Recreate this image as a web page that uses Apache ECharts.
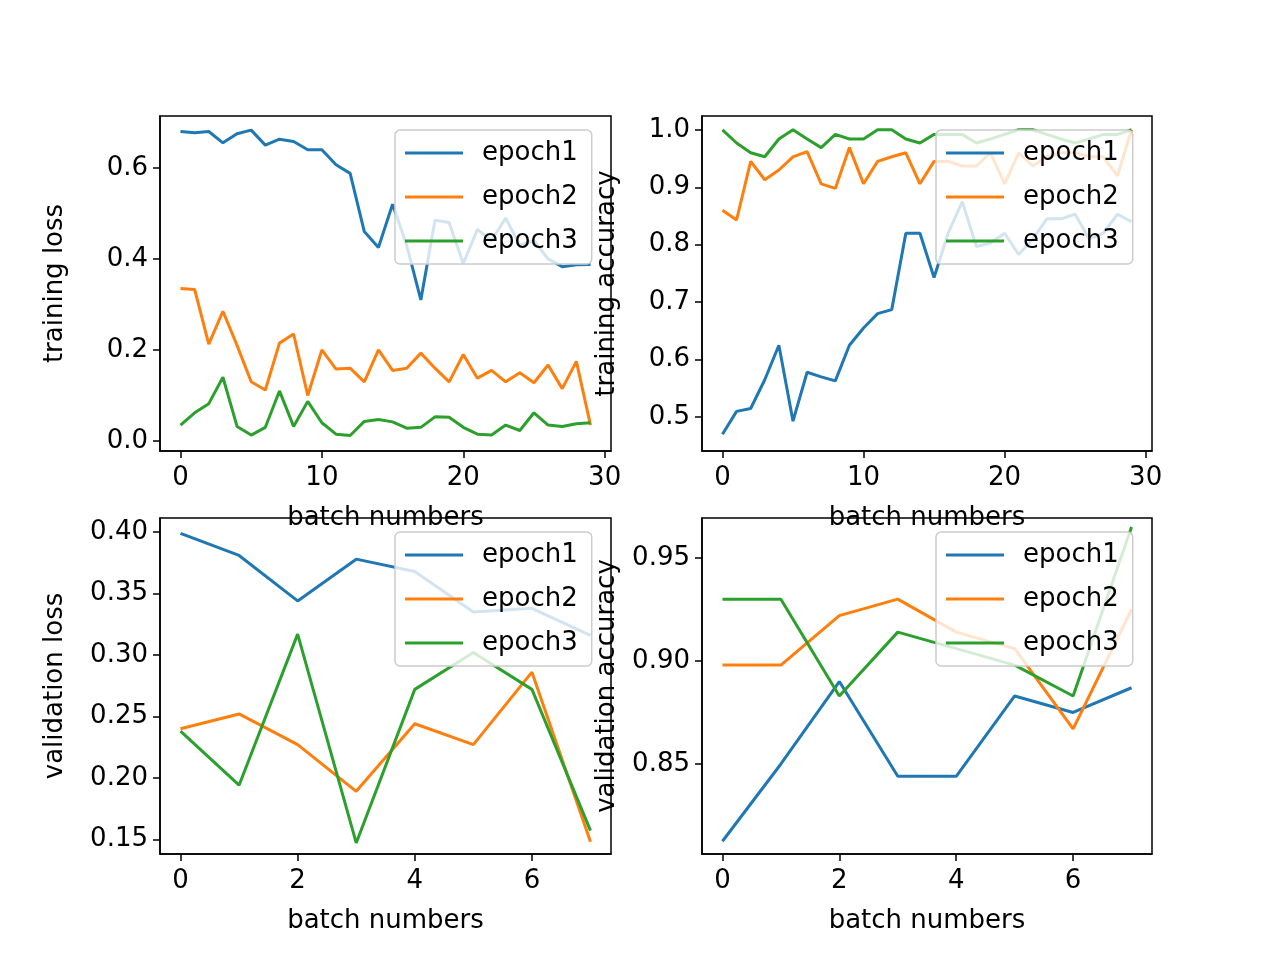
<!DOCTYPE html>
<html>
<head>
<meta charset="utf-8">
<script src="https://cdn.jsdelivr.net/npm/echarts@6/dist/echarts.min.js"></script>
<style>html,body{margin:0;background:#fff}#main{width:1280px;height:960px}</style>
</head>
<body>
<div id="main"></div>
<script>
// chart data
const seriesNames = ['epoch1', 'epoch2', 'epoch3'];
const colors = ['#1f77b4', '#ff7f0e', '#2ca02c'];

const trainLoss1 = [0.68,0.677,0.68,0.655,0.675,0.683,0.65,0.663,0.658,0.64,0.64,0.607,0.588,0.46,0.425,0.52,0.43,0.31,0.485,0.48,0.39,0.465,0.44,0.49,0.43,0.44,0.40,0.383,0.387,0.388];
const trainLoss2 = [0.335,0.333,0.213,0.285,0.21,0.13,0.112,0.215,0.235,0.1,0.2,0.158,0.16,0.13,0.2,0.155,0.16,0.193,0.16,0.13,0.19,0.138,0.155,0.13,0.15,0.128,0.167,0.115,0.175,0.035];
const trainLoss3 = [0.035,0.062,0.082,0.14,0.032,0.013,0.03,0.11,0.032,0.087,0.04,0.015,0.012,0.043,0.047,0.042,0.028,0.03,0.053,0.052,0.03,0.015,0.013,0.035,0.023,0.062,0.035,0.032,0.038,0.04];

const trainAcc1 = [0.47,0.51,0.515,0.565,0.625,0.493,0.578,0.57,0.563,0.625,0.655,0.68,0.687,0.82,0.82,0.743,0.82,0.875,0.797,0.803,0.82,0.783,0.81,0.845,0.845,0.853,0.81,0.82,0.853,0.84];
const trainAcc2 = [0.86,0.843,0.945,0.913,0.93,0.953,0.962,0.906,0.898,0.969,0.906,0.945,0.953,0.96,0.906,0.945,0.945,0.937,0.937,0.96,0.906,0.96,0.937,0.953,0.96,0.96,0.953,0.953,0.92,1.0];
const trainAcc3 = [1.0,0.977,0.96,0.953,0.984,1.0,0.984,0.969,0.992,0.984,0.984,1.0,1.0,0.984,0.977,0.992,0.992,0.992,0.977,0.984,0.992,1.0,1.0,0.992,0.984,0.977,0.984,0.992,0.992,1.0];

const valLoss1 = [0.399,0.381,0.344,0.378,0.368,0.335,0.338,0.316];
const valLoss2 = [0.240,0.252,0.227,0.189,0.244,0.227,0.286,0.148];
const valLoss3 = [0.238,0.194,0.317,0.147,0.272,0.302,0.272,0.157];

const valAcc1 = [0.8125,0.85,0.89,0.844,0.844,0.883,0.875,0.887];
const valAcc2 = [0.898,0.898,0.922,0.93,0.914,0.906,0.867,0.925];
const valAcc3 = [0.93,0.93,0.883,0.914,0.906,0.898,0.883,0.965];

const panels = [
  { box: [160, 116, 451, 335], x: [-1.45, 30.45, 10], y: [-0.022, 0.714, 0.2, 1], yName: 'training loss', data: [trainLoss1, trainLoss2, trainLoss3] },
  { box: [702, 116, 450, 335], x: [-1.45, 30.45, 10], y: [0.441, 1.024, 0.1, 1], yName: 'training accuracy', data: [trainAcc1, trainAcc2, trainAcc3] },
  { box: [160, 518, 451, 336], x: [-0.35, 7.35, 2], y: [0.138, 0.4115, 0.05, 2], yName: 'validation loss', data: [valLoss1, valLoss2, valLoss3] },
  { box: [702, 518, 450, 336], x: [-0.35, 7.35, 2], y: [0.8063, 0.9694, 0.05, 2], yName: 'validation accuracy', data: [valAcc1, valAcc2, valAcc3] },
];

const font = 'DejaVu Sans';
const fs = 26;
const axisLine = { show: true, onZero: false, lineStyle: { color: '#000', width: 1.5 } };
const axisTick = { show: true, inside: false, length: 7, lineStyle: { color: '#000', width: 1.5 } };

const option = {
  animation: false,
  backgroundColor: '#fff',
  textStyle: { fontFamily: font },
  grid: [], xAxis: [], yAxis: [], series: [], legend: [],
};

panels.forEach((p, i) => {
  const [l, t, w, h] = p.box;
  option.grid.push({ left: l, top: t, width: w, height: h, show: true, borderColor: '#000', borderWidth: 1.5, backgroundColor: 'transparent' });
  const xt = []; for (let v = 0; v <= p.x[1]; v += p.x[2]) xt.push(v);
  option.xAxis.push({
    type: 'value', gridIndex: i, min: p.x[0], max: p.x[1],
    name: 'batch numbers', nameLocation: 'middle', nameGap: 54,
    nameTextStyle: { fontSize: fs, color: '#000', fontFamily: font },
    axisLine, splitLine: { show: false },
    axisTick: Object.assign({}, axisTick, { customValues: xt }),
    axisLabel: { color: '#000', fontSize: fs, fontFamily: font, margin: 14, customValues: xt },
  });
  const yt = []; const st = p.y[2];
  for (let v = Math.ceil(p.y[0] / st - 1e-9) * st; v <= p.y[1] + 1e-9; v += st) yt.push(+v.toFixed(4));
  option.yAxis.push({
    type: 'value', gridIndex: i, min: p.y[0], max: p.y[1],
    name: p.yName, nameLocation: 'middle', nameGap: i % 2 ? 82 : 92,
    nameTextStyle: { fontSize: fs, color: '#000', fontFamily: font },
    axisLine, splitLine: { show: false },
    axisTick: Object.assign({}, axisTick, { customValues: yt }),
    axisLabel: { color: '#000', fontSize: fs, fontFamily: font, margin: 12, customValues: yt,
      formatter: v => v.toFixed(p.y[3]) },
  });
  p.data.forEach((d, j) => {
    option.series.push({
      type: 'line', name: seriesNames[j], xAxisIndex: i, yAxisIndex: i,
      data: d.map((v, k) => [k, v]), showSymbol: false, symbol: 'none',
      lineStyle: { color: colors[j], width: 3 }, itemStyle: { color: colors[j] }, z: 2,
    });
  });
  option.legend.push({
    data: seriesNames.map((n, j) => ({ name: n, itemStyle: { color: colors[j] } })),
    orient: 'vertical', left: l + w - 216, top: t + 14,
    icon: 'rect', itemWidth: 58, itemHeight: 3, itemGap: 18,
    padding: [10, 14, 10, 10],
    backgroundColor: 'rgba(255,255,255,0.8)', borderColor: '#ccc', borderWidth: 1.5, borderRadius: 5,
    textStyle: { fontSize: fs, color: '#000', fontFamily: font, padding: [0, 0, 0, 14] },
    selectedMode: false, z: 10,
  });
});

const chart = echarts.init(document.getElementById('main'));
chart.setOption(option);
</script>
</body>
</html>
